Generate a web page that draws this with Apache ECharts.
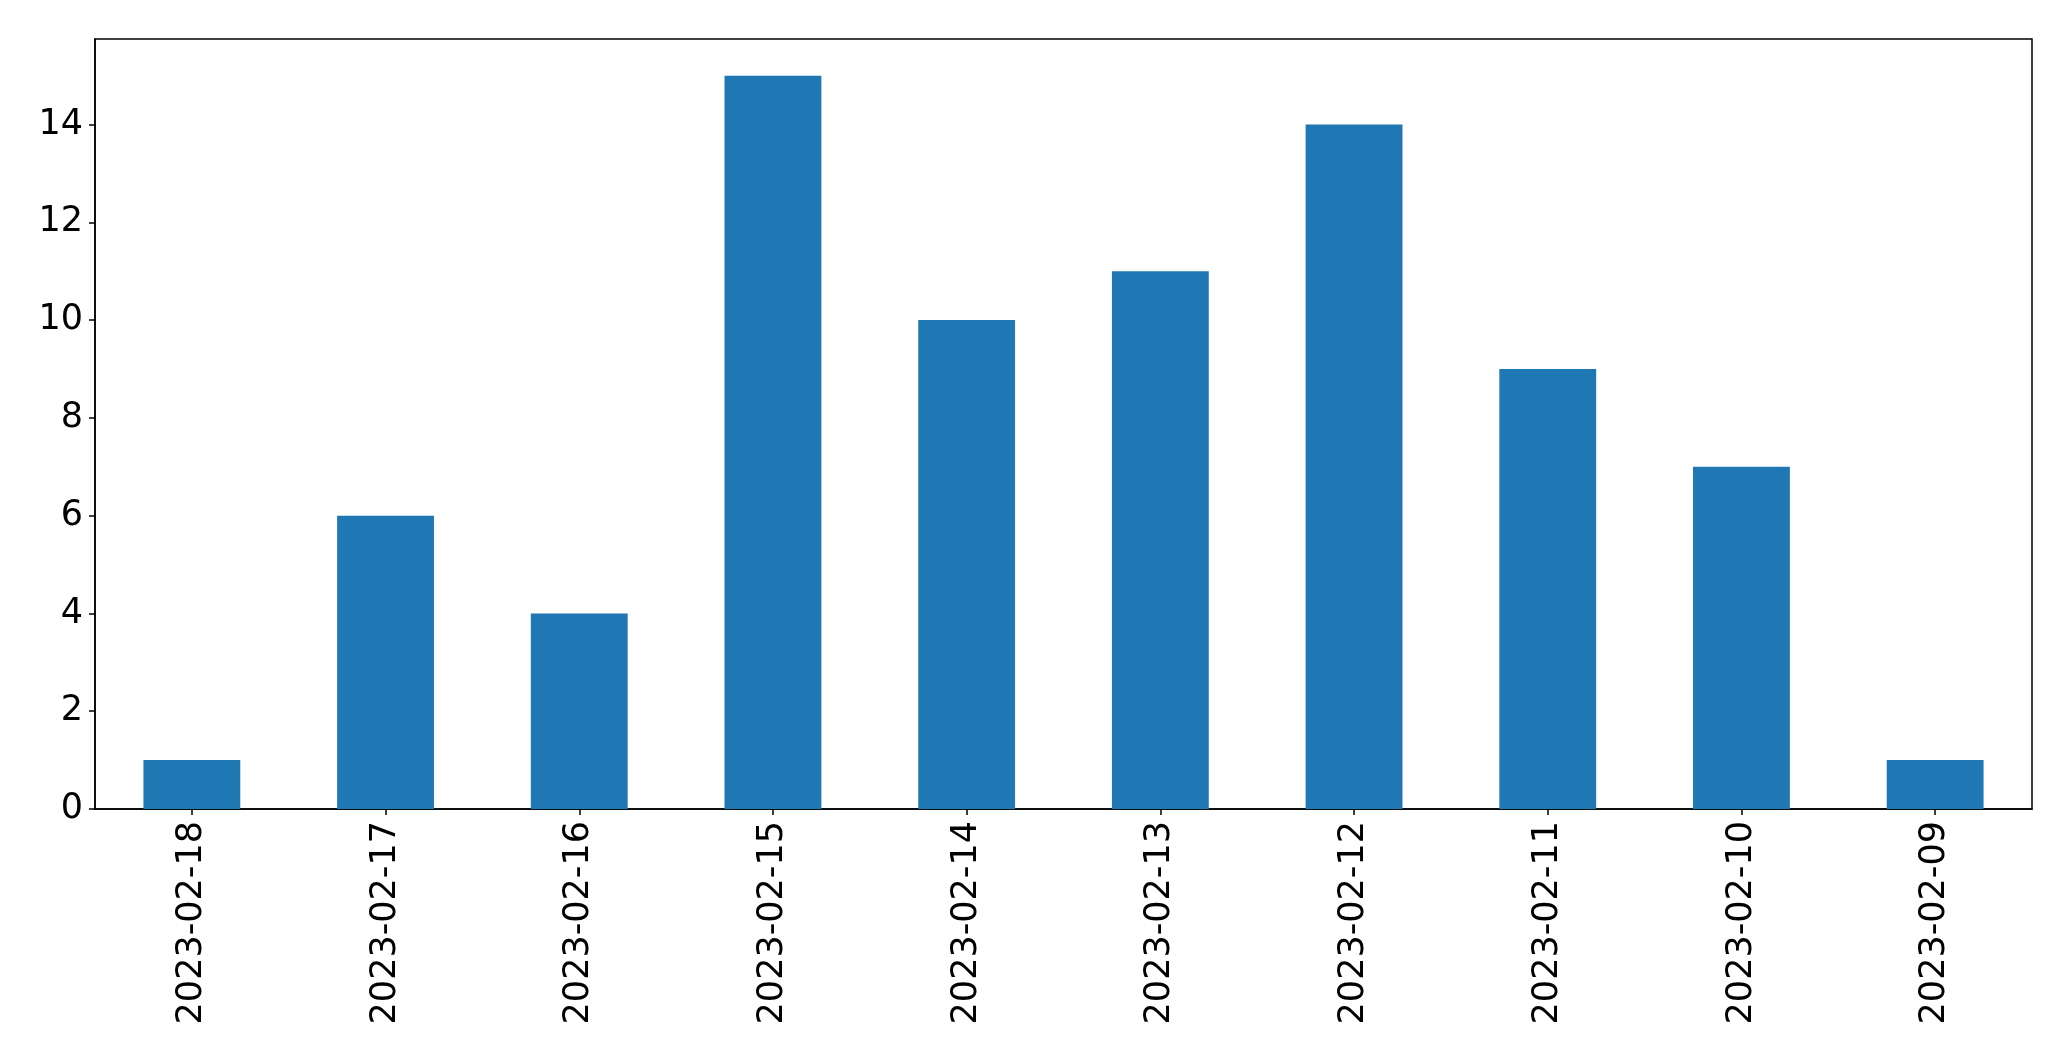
<!DOCTYPE html>
<html>
<head>
<meta charset="utf-8">
<script src="https://cdn.jsdelivr.net/npm/echarts@6/dist/echarts.min.js"></script>
<style>html,body{margin:0;padding:0;background:#fff}#c{width:2071px;height:1061px}</style>
</head>
<body>
<div id="c"></div>
<script>
var categories = ["2023-02-18","2023-02-17","2023-02-16","2023-02-15","2023-02-14","2023-02-13","2023-02-12","2023-02-11","2023-02-10","2023-02-09"];
var values = [1, 6, 4, 15, 10, 11, 14, 9, 7, 1];
var yTicks = [0, 2, 4, 6, 8, 10, 12, 14];

var chart = echarts.init(document.getElementById('c'), null, {renderer: 'canvas'});
var font = 'DejaVu Sans';
chart.setOption({
  animation: false,
  backgroundColor: '#ffffff',
  grid: {left: 95, top: 39, right: 39, bottom: 252, show: true, borderColor: '#000', borderWidth: 1.5, backgroundColor: 'transparent'},
  xAxis: {
    type: 'category',
    data: categories,
    axisLine: {show: true, lineStyle: {color: '#000', width: 1.5}},
    axisTick: {show: true, alignWithLabel: true, length: 6, lineStyle: {color: '#000', width: 1.5}},
    axisLabel: {rotate: 90, margin: 12, fontFamily: font, fontSize: 35, color: '#000', interval: 0},
    splitLine: {show: false}
  },
  yAxis: {
    type: 'value',
    min: 0,
    max: 15.75,
    interval: 2,
    axisLine: {show: true, lineStyle: {color: '#000', width: 1.5}},
    axisTick: {show: true, length: 6, lineStyle: {color: '#000', width: 1.5}},
    axisLabel: {
      margin: 12, fontFamily: font, fontSize: 35, color: '#000', showMaxLabel: false,
      formatter: function (v) { return yTicks.indexOf(v) >= 0 ? String(v) : ''; }
    },
    splitLine: {show: false}
  },
  series: [{
    type: 'bar',
    data: values,
    barWidth: '50%',
    itemStyle: {color: '#1f77b4'}
  }]
});
</script>
</body>
</html>
